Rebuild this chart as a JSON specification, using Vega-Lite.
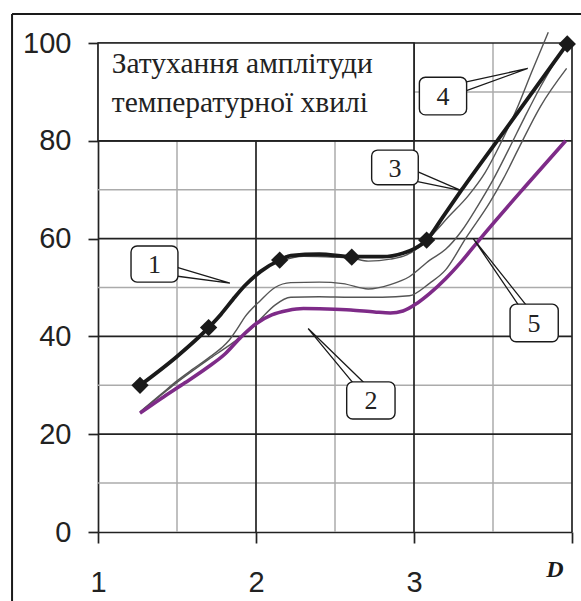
{
  "$schema": "https://vega.github.io/schema/vega-lite/v6.json",
  "width": 474,
  "height": 489,
  "autosize": {"type": "none"},
  "padding": {"left": 98, "top": 43, "right": 9, "bottom": 69},
  "background": "white",
  "config": {"view": {"stroke": null}},
  "datasets": {
    "vminor": [{"x": 1.5}, {"x": 2.5}, {"x": 3.5}],
    "hminor": [{"y": 10}, {"y": 30}, {"y": 50}, {"y": 70}, {"y": 90}],
    "vmajor": [{"x": 2}, {"x": 3}, {"x": 4}],
    "hmajor": [{"y": 20}, {"y": 40}, {"y": 60}, {"y": 80}, {"y": 100}],
    "titlebox": [{"x": 1, "x2": 3, "y": 80, "y2": 100}],
    "titletext": [
      {"x": 1.087, "y": 93.8, "t": "Затухання амплітуди"},
      {"x": 1.087, "y": 85.95, "t": "температурної хвилі"}
    ],
    "gray": [
      {"s": "g1", "x": 2.15, "y": 55.4}, {"s": "g1", "x": 2.3, "y": 56.4}, {"s": "g1", "x": 2.5, "y": 56.2},
      {"s": "g1", "x": 2.606, "y": 56.0}, {"s": "g1", "x": 2.71, "y": 55.4}, {"s": "g1", "x": 2.85, "y": 55.8},
      {"s": "g1", "x": 2.95, "y": 56.6}, {"s": "g1", "x": 3.03, "y": 58.2}, {"s": "g1", "x": 3.11, "y": 60.6},
      {"s": "g1", "x": 3.22, "y": 64.5}, {"s": "g1", "x": 3.344, "y": 68.8}, {"s": "g1", "x": 3.45, "y": 73.5},
      {"s": "g1", "x": 3.544, "y": 79.2}, {"s": "g1", "x": 3.65, "y": 86.5}, {"s": "g1", "x": 3.75, "y": 94.5},
      {"s": "g1", "x": 3.85, "y": 102.2},
      {"s": "a", "x": 1.266, "y": 24.6}, {"s": "a", "x": 1.4, "y": 28.2}, {"s": "a", "x": 1.5, "y": 30.9},
      {"s": "a", "x": 1.6, "y": 33.3}, {"s": "a", "x": 1.7, "y": 35.6}, {"s": "a", "x": 1.78, "y": 37.6},
      {"s": "a", "x": 1.83, "y": 39.2}, {"s": "a", "x": 1.88, "y": 41.5}, {"s": "a", "x": 1.93, "y": 44.0},
      {"s": "a", "x": 2.03, "y": 47.4}, {"s": "a", "x": 2.12, "y": 50.0}, {"s": "a", "x": 2.22, "y": 51.0},
      {"s": "a", "x": 2.4, "y": 51.1}, {"s": "a", "x": 2.55, "y": 50.8}, {"s": "a", "x": 2.71, "y": 49.7},
      {"s": "a", "x": 2.85, "y": 50.6}, {"s": "a", "x": 2.97, "y": 52.2}, {"s": "a", "x": 3.1, "y": 55.6},
      {"s": "a", "x": 3.2, "y": 57.8}, {"s": "a", "x": 3.3, "y": 61.5}, {"s": "a", "x": 3.4, "y": 66.5},
      {"s": "a", "x": 3.5, "y": 72.0}, {"s": "a", "x": 3.6, "y": 78.3}, {"s": "a", "x": 3.7, "y": 84.8},
      {"s": "a", "x": 3.8, "y": 91.0}, {"s": "a", "x": 3.9, "y": 96.5}, {"s": "a", "x": 3.966, "y": 99.6},
      {"s": "b", "x": 1.266, "y": 24.5}, {"s": "b", "x": 1.4, "y": 28.0}, {"s": "b", "x": 1.5, "y": 30.6},
      {"s": "b", "x": 1.6, "y": 33.0}, {"s": "b", "x": 1.7, "y": 35.3}, {"s": "b", "x": 1.8, "y": 37.5},
      {"s": "b", "x": 1.88, "y": 39.3}, {"s": "b", "x": 1.95, "y": 41.0}, {"s": "b", "x": 2.03, "y": 43.6},
      {"s": "b", "x": 2.12, "y": 46.4}, {"s": "b", "x": 2.22, "y": 48.0}, {"s": "b", "x": 2.4, "y": 48.1},
      {"s": "b", "x": 2.6, "y": 48.0}, {"s": "b", "x": 2.8, "y": 48.0}, {"s": "b", "x": 2.97, "y": 48.3},
      {"s": "b", "x": 3.1, "y": 50.9}, {"s": "b", "x": 3.2, "y": 53.6}, {"s": "b", "x": 3.33, "y": 60.2},
      {"s": "b", "x": 3.48, "y": 67.4}, {"s": "b", "x": 3.565, "y": 72.2}, {"s": "b", "x": 3.66, "y": 78.3},
      {"s": "b", "x": 3.8, "y": 87.0}, {"s": "b", "x": 3.966, "y": 94.8}
    ],
    "purple": [
      {"x": 1.266, "y": 24.3}, {"x": 1.4, "y": 27.3}, {"x": 1.55, "y": 30.5}, {"x": 1.69, "y": 33.6},
      {"x": 1.8, "y": 36.3}, {"x": 1.9, "y": 39.7}, {"x": 2.0, "y": 42.6}, {"x": 2.1, "y": 44.4},
      {"x": 2.2, "y": 45.3}, {"x": 2.3, "y": 45.7}, {"x": 2.45, "y": 45.6}, {"x": 2.6, "y": 45.4},
      {"x": 2.75, "y": 45.0}, {"x": 2.85, "y": 44.8}, {"x": 2.93, "y": 45.2}, {"x": 3.02, "y": 46.8},
      {"x": 3.1, "y": 48.8}, {"x": 3.2, "y": 51.8}, {"x": 3.3, "y": 55.3}, {"x": 3.42, "y": 60.0},
      {"x": 3.7, "y": 70.5}, {"x": 3.96, "y": 80.0}
    ],
    "black": [
      {"x": 1.266, "y": 30.0}, {"x": 1.5, "y": 35.9}, {"x": 1.7, "y": 41.8}, {"x": 1.78, "y": 44.6},
      {"x": 1.855, "y": 47.6}, {"x": 1.93, "y": 50.4}, {"x": 2.03, "y": 53.3}, {"x": 2.15, "y": 55.6},
      {"x": 2.22, "y": 56.5}, {"x": 2.4, "y": 56.8}, {"x": 2.606, "y": 56.3}, {"x": 2.8, "y": 56.3},
      {"x": 2.93, "y": 57.0}, {"x": 3.0, "y": 57.9}, {"x": 3.08, "y": 59.7}, {"x": 3.18, "y": 64.3},
      {"x": 3.3, "y": 69.9}, {"x": 3.576, "y": 82.2}, {"x": 3.97, "y": 99.8}
    ],
    "markers": [
      {"x": 1.266, "y": 30.0}, {"x": 1.7, "y": 41.8}, {"x": 2.15, "y": 55.6},
      {"x": 2.606, "y": 56.2}, {"x": 3.08, "y": 59.7}, {"x": 3.97, "y": 99.8}
    ],
    "pointers": [
      {"id": "1", "o": 1, "x": 1.48, "y": 54.3}, {"id": "1", "o": 2, "x": 1.835, "y": 50.9}, {"id": "1", "o": 3, "x": 1.48, "y": 52.4},
      {"id": "2", "o": 1, "x": 2.627, "y": 30.0}, {"id": "2", "o": 2, "x": 2.33, "y": 41.6}, {"id": "2", "o": 3, "x": 2.70, "y": 30.0},
      {"id": "3", "o": 1, "x": 3.0, "y": 74.0}, {"id": "3", "o": 2, "x": 3.30, "y": 69.8}, {"id": "3", "o": 3, "x": 3.0, "y": 71.8},
      {"id": "4", "o": 1, "x": 3.31, "y": 91.9}, {"id": "4", "o": 2, "x": 3.72, "y": 94.8}, {"id": "4", "o": 3, "x": 3.31, "y": 90.0},
      {"id": "5", "o": 1, "x": 3.67, "y": 46.0}, {"id": "5", "o": 2, "x": 3.375, "y": 60.0}, {"id": "5", "o": 3, "x": 3.72, "y": 46.0}
    ],
    "boxes": [
      {"id": "1", "x": 1.209, "x2": 1.506, "y": 51.1, "y2": 58.5, "cx": 1.358, "cy": 54.8},
      {"id": "2", "x": 2.574, "x2": 2.88, "y": 23.1, "y2": 30.7, "cx": 2.728, "cy": 26.9},
      {"id": "3", "x": 2.732, "x2": 3.027, "y": 71.0, "y2": 78.1, "cx": 2.88, "cy": 74.5},
      {"id": "4", "x": 3.034, "x2": 3.333, "y": 85.3, "y2": 93.0, "cx": 3.184, "cy": 89.1},
      {"id": "5", "x": 3.608, "x2": 3.913, "y": 38.9, "y2": 46.6, "cx": 3.76, "cy": 42.8}
    ],
    "frame": [
      {"x": 0.456, "x2": 4.06, "y": 105.93, "y2": 105.93},
      {"x": 0.456, "x2": 0.456, "y": -14.5, "y2": 105.93}
    ],
    "dlabel": [{"x": 3.892, "y": -7.8, "t": "D"}]
  },
  "layer": [
    {
      "data": {"name": "vminor"},
      "mark": {"type": "rule", "color": "#ababab", "strokeWidth": 1.5},
      "encoding": {
        "x": {"field": "x", "type": "quantitative", "title": null, "scale": {"domain": [1, 4], "nice": false, "zero": false},
          "axis": {"values": [1, 2, 3, 4], "format": "d", "title": null, "grid": false, "tickSize": 11, "tickWidth": 1.7, "tickColor": "#222",
            "domainColor": "#222", "domainWidth": 1.7, "labelFont": "Liberation Sans", "labelFontSize": 29, "labelColor": "#222",
            "labelPadding": 25, "labelFlush": false, "labelOverlap": false,
            "labelExpr": "datum.value == 4 ? '' : datum.label"}}
      }
    },
    {
      "data": {"name": "hminor"},
      "mark": {"type": "rule", "color": "#ababab", "strokeWidth": 1.5},
      "encoding": {
        "y": {"field": "y", "type": "quantitative", "title": null, "scale": {"domain": [0, 100], "nice": false, "zero": false},
          "axis": {"values": [0, 20, 40, 60, 80, 100], "format": "d", "title": null, "grid": false, "tickSize": 10, "tickWidth": 1.7, "tickColor": "#222",
            "domainColor": "#222", "domainWidth": 1.7, "labelFont": "Liberation Sans", "labelFontSize": 29, "labelColor": "#222",
            "labelPadding": 17, "labelFlush": false, "labelOverlap": false}}
      }
    },
    {
      "data": {"name": "vmajor"},
      "mark": {"type": "rule", "color": "#222", "strokeWidth": 1.7},
      "encoding": {"x": {"field": "x", "type": "quantitative", "title": null}}
    },
    {
      "data": {"name": "hmajor"},
      "mark": {"type": "rule", "color": "#222", "strokeWidth": 1.7},
      "encoding": {"y": {"field": "y", "type": "quantitative", "title": null}}
    },
    {
      "data": {"name": "titlebox"},
      "mark": {"type": "rect", "fill": "white", "stroke": "#222", "strokeWidth": 1.7},
      "encoding": {
        "x": {"field": "x", "type": "quantitative", "title": null}, "x2": {"field": "x2"},
        "y": {"field": "y", "type": "quantitative", "title": null}, "y2": {"field": "y2"}
      }
    },
    {
      "data": {"name": "titletext"},
      "mark": {"type": "text", "align": "left", "baseline": "alphabetic", "font": "Liberation Serif", "fontSize": 29.5, "color": "#222"},
      "encoding": {
        "x": {"field": "x", "type": "quantitative", "title": null},
        "y": {"field": "y", "type": "quantitative", "title": null},
        "text": {"field": "t"}
      }
    },
    {
      "data": {"name": "gray"},
      "mark": {"type": "line", "color": "#555555", "strokeWidth": 1.4, "interpolate": "monotone"},
      "encoding": {
        "x": {"field": "x", "type": "quantitative", "title": null},
        "y": {"field": "y", "type": "quantitative", "title": null},
        "detail": {"field": "s"}
      }
    },
    {
      "data": {"name": "purple"},
      "mark": {"type": "line", "color": "#7e2b88", "strokeWidth": 3.6, "interpolate": "monotone"},
      "encoding": {
        "x": {"field": "x", "type": "quantitative", "title": null},
        "y": {"field": "y", "type": "quantitative", "title": null}
      }
    },
    {
      "data": {"name": "black"},
      "mark": {"type": "line", "color": "#1a1a1a", "strokeWidth": 3.8, "interpolate": "monotone"},
      "encoding": {
        "x": {"field": "x", "type": "quantitative", "title": null},
        "y": {"field": "y", "type": "quantitative", "title": null}
      }
    },
    {
      "data": {"name": "markers"},
      "mark": {"type": "point", "shape": "diamond", "filled": true, "size": 300, "color": "#1a1a1a", "opacity": 1},
      "encoding": {
        "x": {"field": "x", "type": "quantitative", "title": null},
        "y": {"field": "y", "type": "quantitative", "title": null}
      }
    },
    {
      "data": {"name": "pointers"},
      "mark": {"type": "line", "color": "#1a1a1a", "strokeWidth": 1.3},
      "encoding": {
        "x": {"field": "x", "type": "quantitative", "title": null},
        "y": {"field": "y", "type": "quantitative", "title": null},
        "detail": {"field": "id"},
        "order": {"field": "o"}
      }
    },
    {
      "data": {"name": "boxes"},
      "mark": {"type": "rect", "fill": "white", "stroke": "#1a1a1a", "strokeWidth": 1.4, "cornerRadius": 6},
      "encoding": {
        "x": {"field": "x", "type": "quantitative", "title": null}, "x2": {"field": "x2"},
        "y": {"field": "y", "type": "quantitative", "title": null}, "y2": {"field": "y2"}
      }
    },
    {
      "data": {"name": "boxes"},
      "mark": {"type": "text", "align": "center", "baseline": "middle", "font": "Liberation Serif", "fontSize": 26, "color": "#222", "dy": 1},
      "encoding": {
        "x": {"field": "cx", "type": "quantitative", "title": null},
        "y": {"field": "cy", "type": "quantitative", "title": null},
        "text": {"field": "id"}
      }
    },
    {
      "data": {"name": "frame"},
      "mark": {"type": "rule", "color": "#1a1a1a", "strokeWidth": 2},
      "encoding": {
        "x": {"field": "x", "type": "quantitative", "title": null}, "x2": {"field": "x2"},
        "y": {"field": "y", "type": "quantitative", "title": null}, "y2": {"field": "y2"}
      }
    },
    {
      "data": {"name": "dlabel"},
      "mark": {"type": "text", "align": "center", "baseline": "middle", "font": "Liberation Serif", "fontSize": 24, "fontStyle": "italic", "fontWeight": "bold", "color": "#1a1a1a"},
      "encoding": {
        "x": {"field": "x", "type": "quantitative", "title": null},
        "y": {"field": "y", "type": "quantitative", "title": null},
        "text": {"field": "t"}
      }
    }
  ]
}
